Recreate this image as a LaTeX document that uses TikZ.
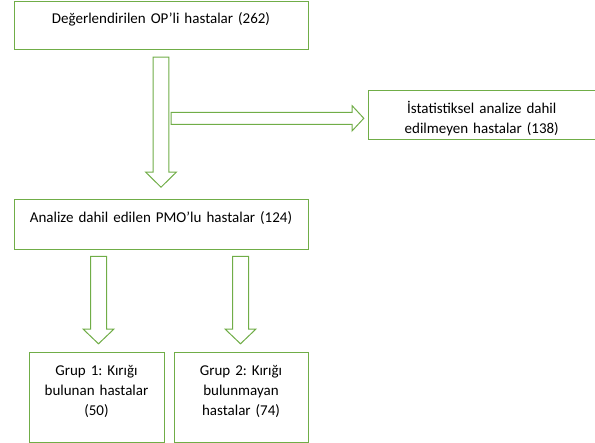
\documentclass[tikz,border=0pt]{standalone}
\usepackage{fontspec}
\setmainfont{Carlito}
\usetikzlibrary{positioning,calc}
\definecolor{ogreen}{RGB}{112,173,71}
% block arrow from #1 to #2: shaft half width, head half width, head length
\newcommand{\blockarrow}[5]{%
  \coordinate (ba) at ($(#2)!#5!(#1)$);
  \draw[arrowline] ($(#1)!#3!90:(#2)$) -- ($(ba)!#3!90:(#2)$) -- ($(ba)!#4!90:(#2)$) -- (#2)
    -- ($(ba)!#4!-90:(#2)$) -- ($(ba)!#3!-90:(#2)$) -- ($(#1)!#3!-90:(#2)$) -- cycle;
}
\begin{document}
\begin{tikzpicture}[box/.style = {draw=ogreen, line width=1pt, inner sep=0pt, align=center, font=\fontsize{15pt}{19.7pt}\selectfont\frenchspacing},
    arrowline/.style = {draw=ogreen, fill=white, line width=1pt}]
    \useasboundingbox (0,0) rectangle (595pt,-443pt);
    \node[box, text width=294pt, text height=21.7pt, text depth=26.3pt] (top) at (161pt,-26pt) {Değerlendirilen OP’li hastalar (262)};
    \node[box, text width=294pt, text height=23pt, text depth=27pt] (mid) [below=149pt of top] {Analize dahil edilen PMO’lu hastalar (124)};
    \node[box, text width=227.5pt, text height=22.5pt, text depth=26.5pt] (side) [below right=40pt and 59pt of top.south east] {İstatistiksel analize dahil\\edilmeyen hastalar (138)};
    \node[box, text width=135pt, text height=23pt, text depth=67pt] (g1) [below right=102pt and 15pt of mid.south west] {Grup 1: Kırığı\\bulunan hastalar\\(50)};
    \node[box, text width=134pt, text height=23pt, text depth=67pt] (g2) [right=9pt of g1] {Grup 2: Kırığı\\bulunmayan\\hastalar (74)};

    % arrow ends
    \coordinate (a1) at ($(top.south)+(0,-6.7pt)$);
    \coordinate (a2) at ($(mid.north)+(0,12.3pt)$);
    \coordinate (b2) at ($(side.west)+(-3.7pt,-2.8pt)$);
    \coordinate (b1) at ($(a1 |- b2)+(10pt,0)$);
    \coordinate (c1) at ($(g1.north |- mid.south)+(2pt,-6pt)$);
    \coordinate (c2) at ($(g1.north)+(2pt,8.7pt)$);
    \coordinate (d1) at ($(g2.north |- mid.south)+(-0.5pt,-6pt)$);
    \coordinate (d2) at ($(g2.north)+(-0.5pt,8.7pt)$);

    \blockarrow{a1}{a2}{7.8pt}{15.3pt}{15pt}
    \blockarrow{b1}{b2}{6pt}{12.5pt}{11.6pt}
    \blockarrow{c1}{c2}{8pt}{15.3pt}{14.6pt}
    \blockarrow{d1}{d2}{8pt}{15.3pt}{14.6pt}
\end{tikzpicture}
\end{document}
